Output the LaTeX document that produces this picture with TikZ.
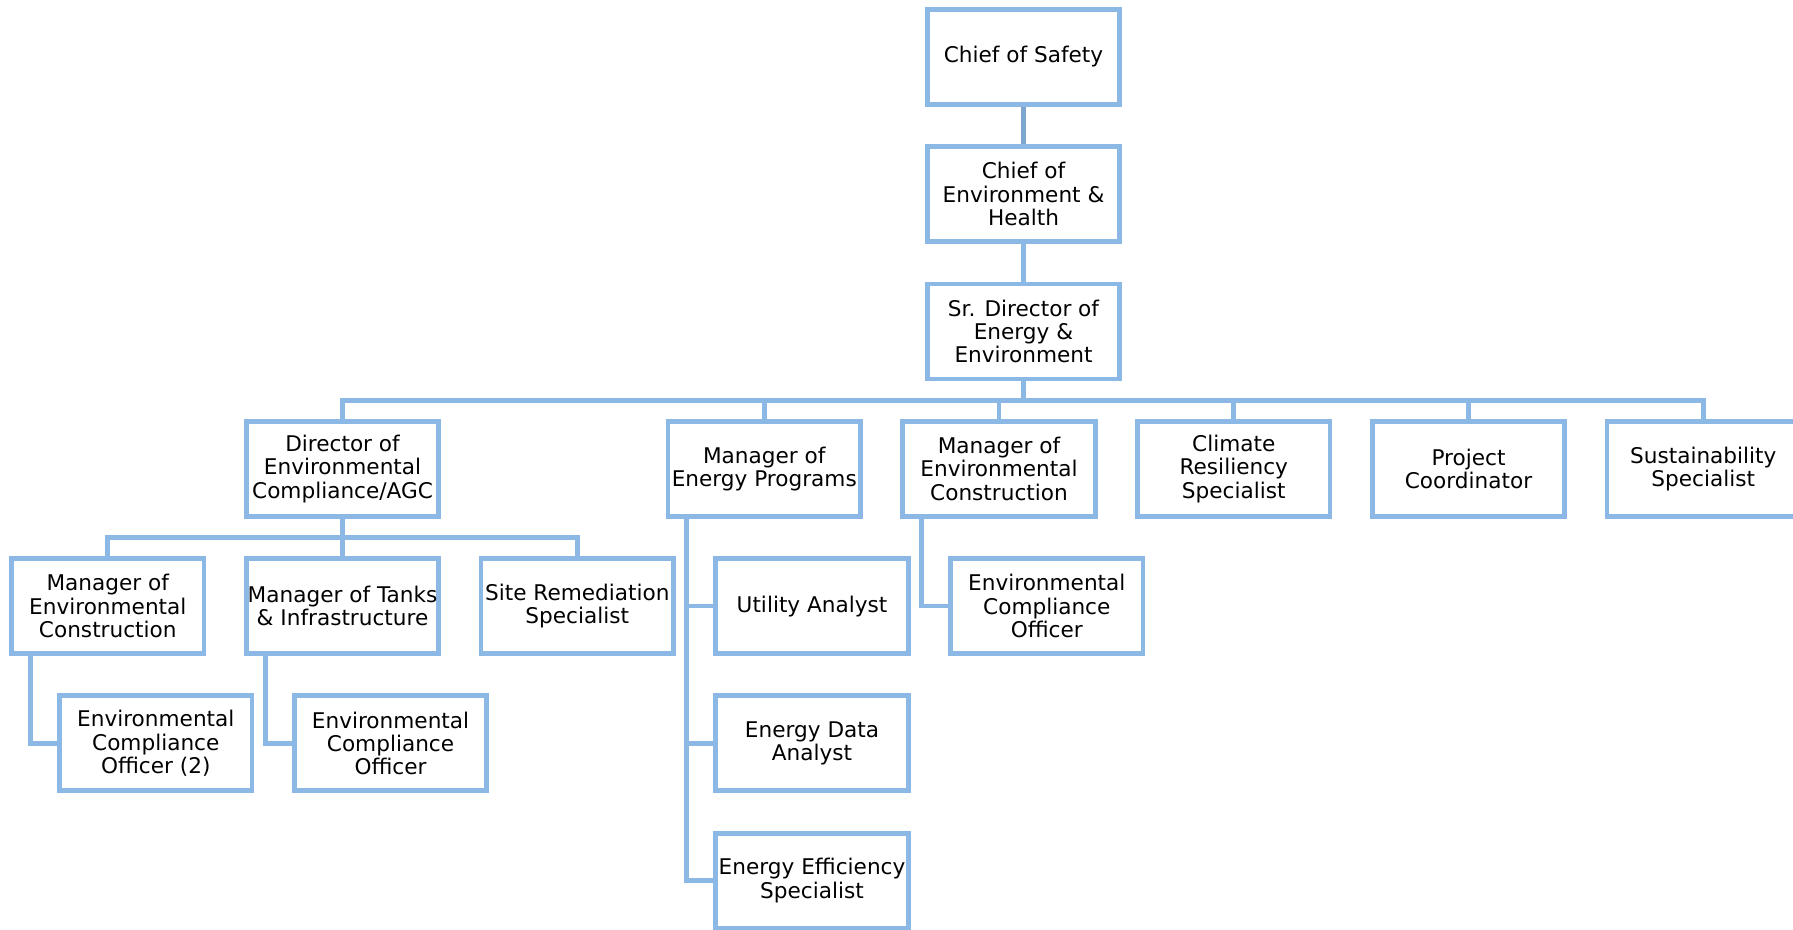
\documentclass[tikz,border=0pt]{standalone}
\usepackage{fontspec}
\setmainfont{DejaVu Sans}
\usepackage{xcolor}
\usepackage{tikz}
\usetikzlibrary{calc}
\usetikzlibrary{positioning}
\definecolor{boxblue}{HTML}{8CB8E6}
\definecolor{topblue}{HTML}{7EA6CF}

\begin{document}
\begin{tikzpicture}
[
	x = 0.02cm, y = -0.02cm,
	post/.style = {rectangle, draw = boxblue, line width = 0.096cm, fill = white, minimum width = 3.85cm, minimum height = 1.9cm, inner sep = 0cm, align = center, font = \fontsize{12.3}{13.3}\selectfont},
	link/.style = {draw = boxblue, line width = 0.096cm},
	node distance = 0.75cm and 0.75cm,
]
	\clip (0, 0) rectangle (1793, 930);

	% top of the chart
	\node (cos) [post] at (1023.5, 57) {Chief of Safety};
	\node (ceh) [post, below = of cos] {Chief of\\Environment \&\\Health};
	\node (sdee) [post, below = of ceh] {Sr. Director of\\Energy \&\\Environment};

	% second row
	\node (mec) [post, below = of sdee, xshift = -0.49cm] {Manager of\\Environmental\\Construction};
	\node (mep) [post, left = of mec] {Manager of\\Energy Programs};
	\node (dir) [post, left = 4.49cm of mep] {Director of\\Environmental\\Compliance/AGC};
	\node (crs) [post, right = of mec] {Climate\\Resiliency\\Specialist};
	\node (pc) [post, right = of crs] {Project\\Coordinator};
	\node (ss) [post, right = of pc] {Sustainability\\Specialist};

	% third row
	\node (mti) [post, below = of dir] {Manager of Tanks\\\& Infrastructure};
	\node (mec2) [post, left = of mti] {Manager of\\Environmental\\Construction};
	\node (srs) [post, right = of mti] {Site Remediation\\Specialist};
	\node (ua) [post, right = of srs] {Utility Analyst};
	\node (eco3) [post, right = of ua] {Environmental\\Compliance\\Officer};

	% fourth and fifth row
	\node (eco2) [post, below = of mec2, xshift = 0.96cm] {Environmental\\Compliance\\Officer (2)};
	\node (eco) [post, below = of mti, xshift = 0.96cm] {Environmental\\Compliance\\Officer};
	\node (eda) [post, below = of ua] {Energy Data\\Analyst};
	\node (ees) [post, below = of eda] {Energy Efficiency\\Specialist};

	% links
	\draw [link, draw = topblue] (cos) -- (ceh);
	\draw [link] (ceh) -- (sdee);
	%
	\coordinate (bus) at ($(sdee.south)!0.5!(mec.north)$);
	\draw [link] (sdee.south) -- (sdee.south |- bus);
	\foreach \n in {dir, mep, mec, crs, pc, ss}
		\draw [link] (sdee.south |- bus) -| (\n.north);
	%
	\coordinate (dbus) at ($(dir.south)!0.5!(mti.north)$);
	\draw [link] (dir.south) -- (dbus);
	\foreach \n in {mec2, mti, srs}
		\draw [link] (dbus) -| (\n.north);
	%
	\draw [link] ([xshift = 0.43cm]mec2.south west) |- (eco2.west);
	\draw [link] ([xshift = 0.43cm]mti.south west) |- (eco.west);
	\draw [link] ([xshift = 0.43cm]mec.south west) |- (eco3.west);
	\foreach \n in {ua, eda, ees}
		\draw [link] ([xshift = 0.42cm]mep.south west) |- (\n.west);

\end{tikzpicture}
\end{document}
